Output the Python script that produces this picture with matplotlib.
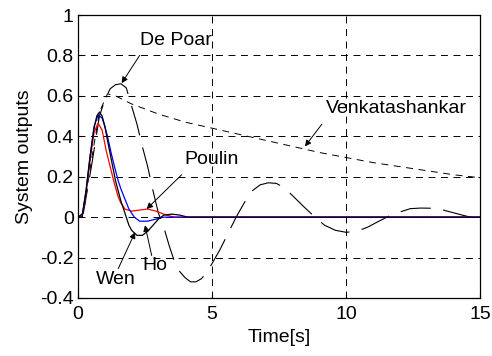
import matplotlib
matplotlib.use("Agg")
import matplotlib.pyplot as plt

plt.rcParams['font.family'] = ['Liberation Sans', 'DejaVu Sans']
plt.rcParams['lines.scale_dashes'] = False

# ---- data ----
depoar_t = [0, 0.2, 0.5, 0.8, 1.0, 1.2, 1.4, 1.6, 1.8, 2.0, 2.2, 2.4, 2.6, 2.8, 3.0, 3.2, 3.4, 3.6, 3.8,
            4.0, 4.2, 4.4, 4.6, 4.8, 5.0, 5.3, 5.6, 5.9, 6.2, 6.5, 6.8, 7.1, 7.4, 7.7, 8.0, 8.4, 8.8,
            9.2, 9.6, 10.0, 10.4, 10.8, 11.2, 11.6, 12.0, 12.4, 12.8, 13.2, 13.6, 14.0, 14.4, 14.8, 15]
depoar_y = [0, 0.02, 0.25, 0.5, 0.58, 0.635, 0.655, 0.66, 0.64, 0.55, 0.46, 0.35, 0.25, 0.13, 0.02,
            -0.05, -0.14, -0.22, -0.27, -0.30, -0.32, -0.32, -0.305, -0.275, -0.23, -0.16, -0.08, 0.0,
            0.07, 0.13, 0.16, 0.17, 0.167, 0.145, 0.107, 0.055, 0.005, -0.04, -0.065, -0.075, -0.07,
            -0.05, -0.022, 0.005, 0.025, 0.042, 0.045, 0.044, 0.036, 0.022, 0.008, -0.005, -0.01]

venk_t = [0, 0.2, 0.5, 0.8, 1.1, 1.4, 2.0, 2.5, 3.0, 3.5, 4, 5, 6, 7, 8, 9, 10, 11, 12, 13, 14, 15]
venk_y = [0, 0.02, 0.28, 0.52, 0.61, 0.6, 0.56, 0.535, 0.51, 0.49, 0.47, 0.44, 0.41, 0.38, 0.35, 0.32,
          0.295, 0.27, 0.25, 0.23, 0.21, 0.195]

wen_t = [0, 0.15, 0.3, 0.45, 0.6, 0.7, 0.8, 0.9, 1.0, 1.1, 1.25, 1.4, 1.5, 1.6, 1.75, 1.9, 2.0, 2.2,
         2.4, 2.6, 2.8, 3.0, 3.2, 3.5, 3.8, 4.1, 15]
wen_y = [0, 0, 0.13, 0.3, 0.44, 0.5, 0.52, 0.5, 0.45, 0.38, 0.28, 0.18, 0.13, 0.08, 0.02, -0.04, -0.065,
         -0.09, -0.09, -0.07, -0.04, -0.01, 0.01, 0.015, 0.01, 0.0, 0]

ho_t = [0, 0.15, 0.3, 0.45, 0.6, 0.75, 0.9, 1.0, 1.1, 1.25, 1.4, 1.5, 1.6, 1.75, 1.9, 2.1, 2.3, 2.6,
        2.9, 3.2, 15]
ho_y = [0, 0, 0.13, 0.3, 0.45, 0.505, 0.49, 0.45, 0.4, 0.31, 0.23, 0.18, 0.14, 0.09, 0.04, 0.0,
        -0.02, -0.02, -0.01, 0.0, 0]

poulin_t = [0, 0.15, 0.3, 0.45, 0.6, 0.75, 0.9, 1.05, 1.2, 1.35, 1.5, 1.6, 1.75, 2.0, 2.3, 2.6, 2.9,
            3.1, 3.3, 3.6, 15]
poulin_y = [0, 0, 0.12, 0.28, 0.42, 0.465, 0.43, 0.33, 0.25, 0.17, 0.1, 0.07, 0.04, 0.03, 0.035, 0.04,
            0.03, 0.02, 0.01, 0.0, 0]

x_ticks = [0, 5, 10, 15]
y_ticks = [-0.4, -0.2, 0, 0.2, 0.4, 0.6, 0.8, 1]
y_tick_labels = ['-0.4', '-0.2', '0', '0.2', '0.4', '0.6', '0.8', '1']

FS = 14

# ---- figure ----
fig = plt.figure(figsize=(4.92, 3.56), dpi=100)
ax = fig.add_axes([78/492, 1-298/356, (480-78)/492, (298-15)/356])

ax.plot(venk_t, venk_y, color='black', lw=0.7, dashes=(5, 4))
ax.plot(depoar_t, depoar_y, color='black', lw=0.8, dashes=(22, 9))
ax.plot(poulin_t, poulin_y, color='red', lw=0.9)
ax.plot(ho_t, ho_y, color='blue', lw=0.9)
ax.plot(wen_t, wen_y, color='black', lw=0.9)

ax.set_xlim(0, 15)
ax.set_ylim(-0.4, 1)
ax.set_xticks(x_ticks)
ax.set_xticklabels([str(v) for v in x_ticks])
ax.set_yticks(y_ticks)
ax.set_yticklabels(y_tick_labels)
ax.tick_params(direction='in', length=3, labelsize=FS, width=0.8)
ax.tick_params(axis='y', pad=3)
ax.tick_params(axis='x', pad=6)
ax.grid(True, color='black', lw=0.7, dashes=(5, 4))
for s in ax.spines.values():
    s.set_linewidth(0.9)

ax.set_xlabel('Time[s]', fontsize=FS, labelpad=4)
ax.set_ylabel('System outputs', fontsize=FS, labelpad=5)

ap = dict(arrowstyle='-|>', color='black', lw=0.7, mutation_scale=9, shrinkA=0, shrinkB=0)
ax.text(3.67, 0.876, 'De Poar', fontsize=FS, ha='center', va='center')
ax.annotate('', xy=(1.63, 0.663), xytext=(2.3, 0.80), arrowprops=ap)
ax.text(11.87, 0.536, 'Venkatashankar', fontsize=FS, ha='center', va='center')
ax.annotate('', xy=(8.47, 0.35), xytext=(9.1, 0.46), arrowprops=ap)
ax.text(4.99, 0.285, 'Poulin', fontsize=FS, ha='center', va='center')
ax.annotate('', xy=(2.56, 0.04), xytext=(3.87, 0.21), arrowprops=ap)
ax.text(1.41, -0.31, 'Wen', fontsize=FS, ha='center', va='center')
ax.annotate('', xy=(2.13, -0.075), xytext=(1.5, -0.255), arrowprops=ap)
ax.text(2.87, -0.24, 'Ho', fontsize=FS, ha='center', va='center')
ax.annotate('', xy=(2.5, -0.04), xytext=(2.75, -0.19), arrowprops=ap)

fig.savefig('out.png', dpi=100)
